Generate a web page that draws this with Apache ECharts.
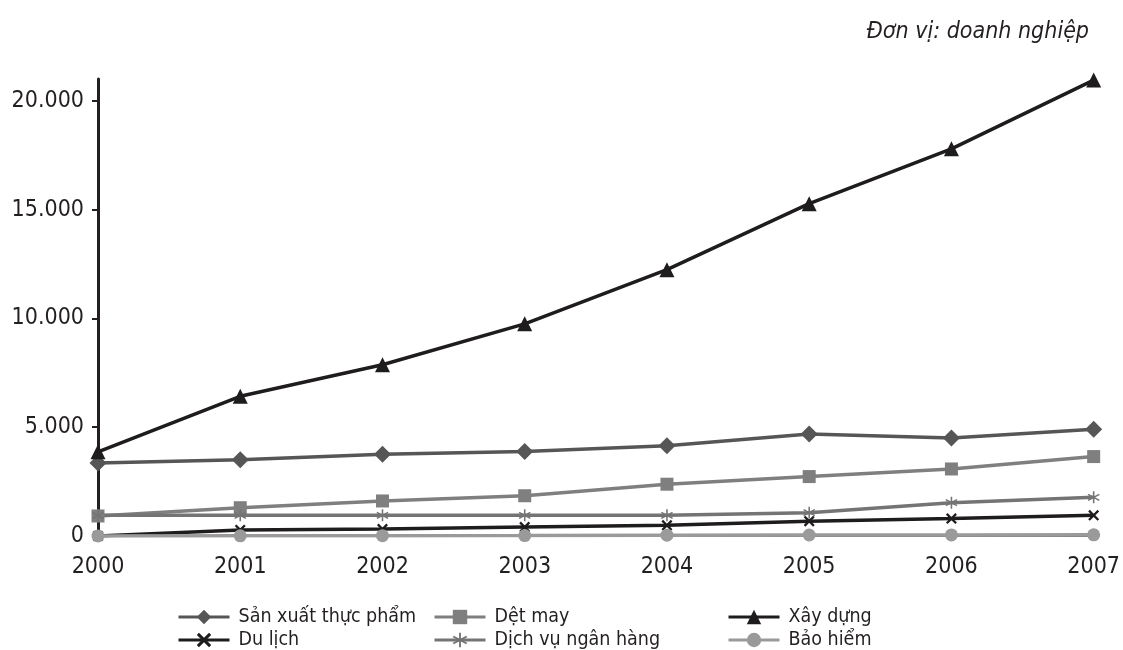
<!DOCTYPE html>
<html>
<head>
<meta charset="utf-8">
<script src="https://cdn.jsdelivr.net/npm/echarts@6/dist/echarts.min.js"></script>
<style>
  html, body { margin: 0; padding: 0; background: #fff; }
  #chart { width: 1123px; height: 650px; }
</style>
</head>
<body>
<div id="chart"></div>
<script>
// Số doanh nghiệp theo ngành, 2000–2007
const years = ['2000', '2001', '2002', '2003', '2004', '2005', '2006', '2007'];
const sanXuatThucPham = [3350, 3500, 3760, 3880, 4150, 4690, 4500, 4910];
const detMay = [920, 1300, 1610, 1850, 2380, 2730, 3080, 3650];
const xayDung = [3870, 6420, 7870, 9750, 12240, 15270, 17790, 20950];
const duLich = [0, 280, 320, 410, 490, 680, 800, 950];
const dichVuNganHang = [950, 950, 950, 950, 950, 1070, 1530, 1780];
const baoHiem = [0, 10, 15, 20, 40, 45, 50, 55];
const yTicks = [0, 5000, 10000, 15000, 20000];
const unitNote = 'Đơn vị: doanh nghiệp';

const FONT = '"DejaVu Sans Condensed", "DejaVu Sans", sans-serif';

// Filled glyphs for the cross and asterisk markers
const CROSS = 'path://M0,1.5 L1.5,0 L5,3.5 L8.5,0 L10,1.5 L6.5,5 L10,8.5 L8.5,10 L5,6.5 L1.5,10 L0,8.5 L3.5,5 Z';
const STAR = 'path://M4.4,0 L5.6,0 L5.6,10 L4.4,10 Z M1.0,1.98 L9.6,6.98 L9.0,8.02 L0.4,3.02 Z M0.4,6.98 L9.0,1.98 L9.6,3.02 L1.0,8.02 Z';

const seriesDefs = [
  { name: 'Sản xuất thực phẩm', data: sanXuatThucPham, color: '#565656', symbol: 'diamond', size: 17 },
  { name: 'Dệt may', data: detMay, color: '#7f7f80', symbol: 'rect', size: 13 },
  { name: 'Xây dựng', data: xayDung, color: '#1f1c1d', symbol: 'triangle', size: 15 },
  { name: 'Du lịch', data: duLich, color: '#1f1c1d', symbol: CROSS, size: 11 },
  { name: 'Dịch vụ ngân hàng', data: dichVuNganHang, color: '#747475', symbol: STAR, size: 12 },
  { name: 'Bảo hiểm', data: baoHiem, color: '#9a9a9b', symbol: 'circle', size: 13 }
];

// Legend: three columns, two rows
const legendPos = [
  { left: 177, top: 607 }, { left: 433, top: 607 }, { left: 727, top: 607 },
  { left: 177, top: 630 }, { left: 433, top: 630 }, { left: 727, top: 630 }
];

const chart = echarts.init(document.getElementById('chart'), null, { renderer: 'canvas' });

chart.setOption({
  animation: false,
  backgroundColor: '#ffffff',
  title: {
    text: unitNote,
    right: 29,
    top: 16,
    textStyle: { fontFamily: FONT, fontStyle: 'italic', fontWeight: 'normal', fontSize: 23, color: '#231f20' }
  },
  legend: seriesDefs.map((s, i) => ({
    data: [s.name],
    left: legendPos[i].left,
    top: legendPos[i].top,
    itemWidth: 51,
    itemHeight: 18,
    itemGap: 0,
    padding: 0,
    selectedMode: false,
    lineStyle: { width: 3 },
    textStyle: { fontFamily: FONT, fontSize: 19.5, color: '#231f20', padding: [0, 0, 0, 4] }
  })),
  grid: { left: 98, right: 28, top: 79, bottom: 114, containLabel: false },
  xAxis: {
    type: 'category',
    data: years,
    boundaryGap: false,
    axisLine: { show: true, lineStyle: { color: '#777777', width: 2 } },
    axisTick: { show: false },
    axisLabel: { fontFamily: FONT, fontSize: 23, color: '#231f20', margin: 20 },
    splitLine: { show: false }
  },
  yAxis: {
    type: 'value',
    min: 0,
    max: 21000,
    interval: 5000,
    axisLine: { show: true, lineStyle: { color: '#231f20', width: 3 } },
    axisTick: { show: true, customValues: yTicks.slice(1), length: 6, lineStyle: { color: '#231f20', width: 2 } },
    axisLabel: {
      fontFamily: FONT, fontSize: 23, color: '#231f20', margin: 14,
      customValues: yTicks,
      formatter: v => v === 0 ? '0' : v.toLocaleString('de-DE')
    },
    splitLine: { show: false }
  },
  series: seriesDefs.map(s => ({
    name: s.name,
    type: 'line',
    data: s.data,
    symbol: s.symbol,
    symbolSize: s.size,
    showAllSymbol: true,
    lineStyle: { color: s.color, width: 3.5 },
    itemStyle: { color: s.color },
    emphasis: { disabled: true }
  }))
});
</script>
</body>
</html>
